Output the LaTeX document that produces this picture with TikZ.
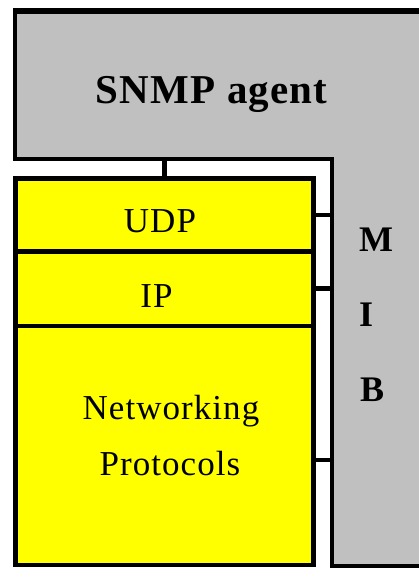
\documentclass[tikz,border=0pt]{standalone}
\usepackage{fontspec}
\setmainfont{Liberation Serif}
\newfontfamily\lblfont{Liberation Serif}[LetterSpace=3]
\usetikzlibrary{calc}
\definecolor{mibgray}{HTML}{C0C0C0}
\definecolor{layeryellow}{HTML}{FFFF00}
\tikzset{
  layerbox/.style={draw=black, line width=4.5pt, fill=layeryellow, minimum width=298pt, inner sep=0pt, outer sep=0pt},
  layertext/.style={anchor=base, inner sep=0pt, font=\lblfont\fontsize{35}{42}\selectfont},
  bigtext/.style={anchor=base, inner sep=0pt, font=\lblfont\bfseries\fontsize{41}{48}\selectfont},
  mibtext/.style={anchor=west, inner sep=0pt, font=\lblfont\bfseries\fontsize{36}{42}\selectfont},
  link/.style={draw=black, line width=4.5pt},
}
\begin{document}
\begin{tikzpicture}[x=1pt,y=1pt]
\useasboundingbox (0,0) rectangle (418,568);
% gray L-shaped SNMP agent / MIB
\coordinate (gTR) at (440,557);
\coordinate (gTL) at (15,557);
\coordinate (gBL) at (15,409);
\coordinate (gIn) at (332,409);
\coordinate (gBot) at (332,2);
\coordinate (gBR) at (440,2);
\fill[mibgray] (gTR) -- (gTL) -- (gBL) -- (gIn) -- (gBot) -- (gBR) -- cycle;
\draw[black, line width=4.5pt, line join=miter] (gTL) -- (gBL) -- (gIn) -- (gBot) -- (gBR);
\draw[black, line width=6.5pt] ($(gTL)+(-2.25,0)$) -- (gTR);
\node[bigtext] (agent) at (211.7,464) {SNMP agent};
% protocol stack
\node[layerbox, minimum height=73pt] (udp) at (164.5,353) {};
\node[layerbox, minimum height=74.5pt] (ip) at (164.5,279.25) {};
\node[layerbox, minimum height=239pt] (net) at (164.5,122.5) {};
\node[layertext] (udpt) at (160,335) {UDP};
\node[layertext] (ipt) at (156.5,260) {IP};
\node[layertext] (nett) at (171,148.7) {Networking};
\node[layertext] (prott) at (170,92) {Protocols};
% MIB letters
\node[mibtext] (mm) at (359,328.5) {M};
\node[mibtext] (mi) at (359,253.5) {I};
\node[mibtext] (mb) at (360,178) {B};
% connectors
\draw[link] (udp.north |- gIn) -- (udp.north);
\draw[link] (udp.east) -- (udp.east -| gIn);
\draw[link] (ip.east) -- (ip.east -| gIn);
\coordinate (netport) at ($(net.east)+(0,-14.5)$);
\draw[link] (netport) -- (netport -| gIn);
\end{tikzpicture}
\end{document}
